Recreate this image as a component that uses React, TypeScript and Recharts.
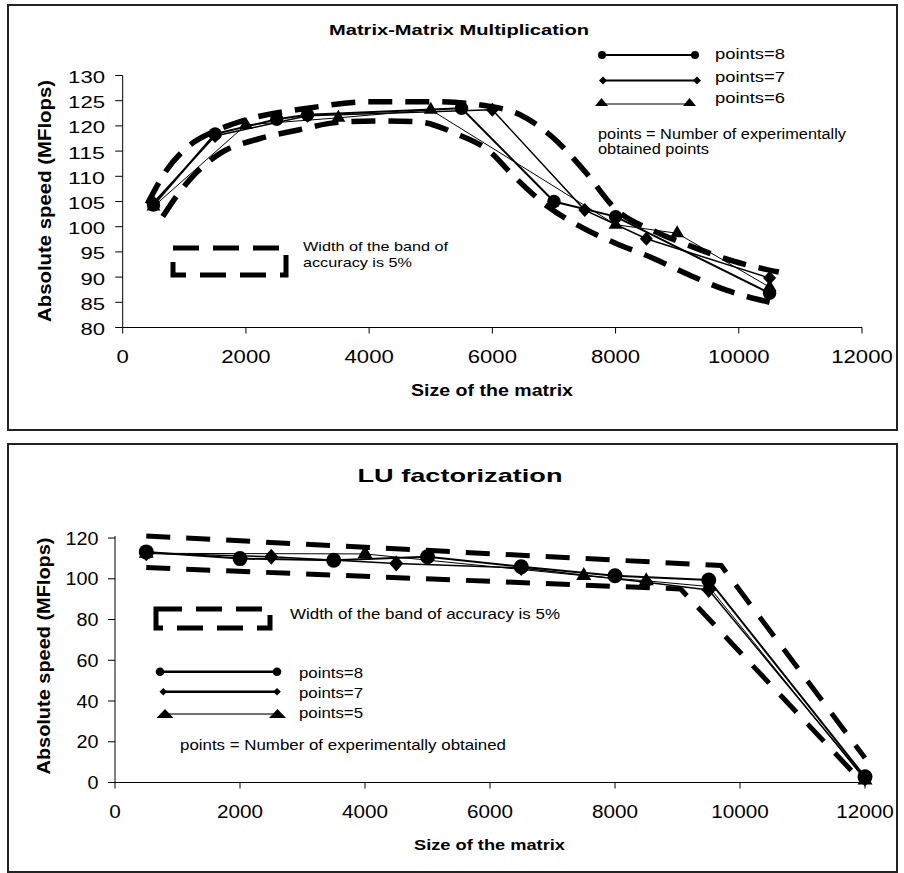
import React from 'react';
import { Line, LineChart, XAxis, YAxis } from 'recharts';

// Matrix-Matrix Multiplication: size of the matrix -> absolute speed (MFlops)
const sizeTicks = [0, 2000, 4000, 6000, 8000, 10000, 12000];
const mmSpeedTicks = [80, 85, 90, 95, 100, 105, 110, 115, 120, 125, 130];
const luSpeedTicks = [0, 20, 40, 60, 80, 100, 120];

const mmSizes8 = [500, 1500, 2500, 3000, 5500, 7000, 8000, 10500];
const mmSpeeds8 = [104.3, 118.4, 121.3, 122.2, 123.5, 105, 102, 86.8];
const mmSizes7 = [500, 1500, 3000, 6000, 7500, 8500, 10500];
const mmSpeeds7 = [104.8, 118, 122, 123.2, 103.3, 97.6, 89.8];
const mmSizes6 = [500, 2000, 3500, 5000, 8000, 9000, 10500];
const mmSpeeds6 = [104, 120.2, 121.6, 123.2, 100.4, 98.7, 88];

const mmUpperSizes = [400, 700, 1100, 1500, 2000, 3000, 4000, 5100, 5900, 6450, 7000, 7500, 8000, 8650, 9250, 9900, 10650];
const mmUpperSpeeds = [104.5, 111, 116.3, 119, 121.2, 123.5, 124.8, 124.8, 124, 122.2, 117.5, 111, 103.5, 99, 96, 93.2, 91];
const mmLowerSizes = [650, 900, 1100, 1600, 2200, 2850, 3500, 4200, 4800, 5400, 5950, 6350, 6900, 7400, 8000, 8600, 9200, 9800, 10500];
const mmLowerSpeeds = [102, 106.5, 109.5, 114.7, 117.4, 119.2, 120.7, 121, 120.8, 118.5, 115, 110, 104, 100.2, 96.7, 93.8, 90.4, 87.4, 85];

// LU factorization
const luSizes8 = [500, 2000, 3500, 5000, 6500, 8000, 9500, 12000];
const luSpeeds8 = [113.2, 109.9, 109.1, 110.8, 105.9, 101.5, 99.4, 2.8];
const luSizes7 = [500, 2500, 4500, 6500, 8500, 9500, 12000];
const luSpeeds7 = [112.5, 110.8, 107.5, 105.3, 98.3, 94.5, 2];
const luSizes5 = [500, 4000, 7500, 8500, 9500, 12000];
const luSpeeds5 = [112.5, 112.2, 101.5, 99, 96.2, 1.2];

const luUpperSizes = [500, 9700, 12000];
const luUpperSpeeds = [121, 106.5, 12];
const luLowerSizes = [500, 9050, 11900];
const luLowerSpeeds = [105.5, 95, 2];

const FONT = "'Liberation Sans', Arial, Helvetica, sans-serif";

const toRows = (sizes: number[], speeds: number[]) => sizes.map((size, i) => ({ size, speed: speeds[i] }));

const circleDot = (r: number) => (p: any) => (
  <circle key={`c-${p.index}`} cx={p.cx} cy={p.cy} r={r} fill='#000' />
);

const diamondDot = (w: number, h: number) => (p: any) => (
  <path
    key={`d-${p.index}`}
    d={`M${p.cx},${p.cy - h}L${p.cx + w},${p.cy}L${p.cx},${p.cy + h}L${p.cx - w},${p.cy}Z`}
    fill='#000'
  />
);

const triangleDot = (w: number, h: number) => (p: any) => (
  <path
    key={`t-${p.index}`}
    d={`M${p.cx},${p.cy - (h * 2) / 3}L${p.cx + w / 2},${p.cy + h / 3}L${p.cx - w / 2},${p.cy + h / 3}Z`}
    fill='#000'
  />
);

interface TxtProps {
  x: number;
  y: number;
  w: number;
  size: number;
  bold?: boolean;
  anchor?: 'start' | 'middle' | 'end';
  rotate?: boolean;
  children: string;
}

function Txt({ x, y, w, size, bold, anchor = 'start', rotate, children }: TxtProps) {
  return (
    <text
      x={rotate ? 0 : x}
      y={rotate ? 0 : y}
      transform={rotate ? `translate(${x},${y}) rotate(-90)` : undefined}
      fontFamily={FONT}
      fontSize={size}
      fontWeight={bold ? 'bold' : 'normal'}
      textAnchor={anchor}
      textLength={w}
      lengthAdjust='spacingAndGlyphs'
      fill='#000'
    >
      {children}
    </text>
  );
}

function yTick(axisX: number, gap: number, digitW: number, base: number, size: number) {
  return (p: any) => {
    const label = String(p.payload.value);
    return (
      <Txt x={axisX - gap} y={p.y + base} w={label.length * digitW} size={size} anchor='end'>
        {label}
      </Txt>
    );
  };
}

function xTick(baseY: number, digitW: number, size: number) {
  return (p: any) => {
    const label = String(p.payload.value);
    return (
      <Txt x={p.x} y={baseY} w={label.length * digitW} size={size} anchor='middle'>
        {label}
      </Txt>
    );
  };
}

const diamond = (cx: number, cy: number, w: number, h: number) =>
  `M${cx},${cy - h}L${cx + w},${cy}L${cx},${cy + h}L${cx - w},${cy}Z`;
const triangle = (cx: number, baseY: number, w: number, h: number) =>
  `M${cx},${baseY - h}L${cx + w / 2},${baseY}L${cx - w / 2},${baseY}Z`;

function Decorations() {
  return (
    <svg
      width={904}
      height={873}
      style={{ position: 'absolute', left: 0, top: 0, pointerEvents: 'none' }}
    >
      {/* frames */}
      <rect x={8} y={5} width={889} height={425} fill='none' stroke='#222' strokeWidth={2} />
      <rect x={8} y={444} width={889} height={428} fill='none' stroke='#222' strokeWidth={2} />

      {/* Matrix-Matrix Multiplication */}
      <Txt x={459} y={35} w={260} size={15} bold anchor='middle'>Matrix-Matrix Multiplication</Txt>
      <Txt x={51} y={201} w={242} size={18} bold anchor='middle' rotate>Absolute speed (MFlops)</Txt>
      <Txt x={492} y={396} w={162} size={16} bold anchor='middle'>Size of the matrix</Txt>

      <line x1={602} y1={55} x2={695} y2={55} stroke='#000' strokeWidth={2} />
      <circle cx={602} cy={55} r={4} fill='#000' />
      <circle cx={695} cy={55} r={4} fill='#000' />
      <Txt x={715} y={59} w={70} size={14}>points=8</Txt>

      <line x1={603} y1={80.5} x2={697} y2={80.5} stroke='#000' strokeWidth={2} />
      <path d={diamond(603, 80.5, 4, 4)} fill='#000' />
      <path d={diamond(697, 80.5, 4, 4)} fill='#000' />
      <Txt x={715} y={81.5} w={70} size={14}>points=7</Txt>

      <line x1={601} y1={104} x2={690} y2={104} stroke='#000' strokeWidth={1} />
      <path d={triangle(601.5, 106, 13, 8)} fill='#000' />
      <path d={triangle(689.5, 106, 13, 8)} fill='#000' />
      <Txt x={715} y={102.5} w={70} size={14}>points=6</Txt>

      <Txt x={598} y={138.5} w={248} size={14}>points = Number of experimentally</Txt>
      <Txt x={598} y={154} w={111} size={14}>obtained points</Txt>

      <rect x={173} y={248} width={113} height={27} fill='none' stroke='#000' strokeWidth={5} strokeDasharray='26 14' />
      <Txt x={303} y={251} w={145} size={13}>Width of the band of</Txt>
      <Txt x={303} y={267} w={109} size={13}>accuracy is 5%</Txt>

      {/* LU factorization */}
      <Txt x={460} y={482} w={205} size={19} bold anchor='middle'>LU factorization</Txt>
      <Txt x={50} y={656} w={237} size={18} bold anchor='middle' rotate>Absolute speed (MFlops)</Txt>
      <Txt x={489.5} y={850} w={151} size={15} bold anchor='middle'>Size of the matrix</Txt>

      <rect x={156} y={609} width={114} height={19} fill='none' stroke='#000' strokeWidth={5} strokeDasharray='26 14' />
      <Txt x={290} y={619} w={270} size={15}>Width of the band of accuracy is 5%</Txt>

      <line x1={160} y1={671.7} x2={277} y2={671.7} stroke='#000' strokeWidth={2.5} />
      <circle cx={160} cy={671.7} r={4.3} fill='#000' />
      <circle cx={277} cy={671.7} r={4.3} fill='#000' />
      <Txt x={299} y={678} w={64} size={15}>points=8</Txt>

      <line x1={163} y1={691.7} x2={277} y2={691.7} stroke='#000' strokeWidth={2.5} />
      <path d={diamond(163.3, 691.7, 3.8, 3.8)} fill='#000' />
      <path d={diamond(277, 691.7, 3.8, 3.8)} fill='#000' />
      <Txt x={299} y={697.5} w={64} size={15}>points=7</Txt>

      <line x1={165} y1={714} x2={277} y2={714} stroke='#444' strokeWidth={1.5} />
      <path d={triangle(165, 718, 17, 9)} fill='#000' />
      <path d={triangle(277.5, 718, 17, 9)} fill='#000' />
      <Txt x={299} y={717.5} w={64} size={15}>points=5</Txt>

      <Txt x={180} y={750} w={326} size={15}>points = Number of experimentally obtained</Txt>
    </svg>
  );
}

function MatrixChart() {
  return (
    <div style={{ position: 'absolute', left: 0, top: 0 }}>
      <LineChart width={904} height={437} margin={{ top: 75.5, right: 42, bottom: 69.5, left: 62.7 }}>
        <XAxis
          dataKey='size'
          type='number'
          domain={[0, 12000]}
          ticks={sizeTicks}
          interval={0}
          height={40}
          tickSize={6}
          axisLine={{ stroke: '#000' }}
          tickLine={{ stroke: '#000' }}
          tick={xTick(363, 12.3, 18)}
        />
        <YAxis
          type='number'
          domain={[80, 130]}
          ticks={mmSpeedTicks}
          interval={0}
          width={60}
          tickSize={7.5}
          axisLine={{ stroke: '#000' }}
          tickLine={{ stroke: '#000' }}
          tick={yTick(122.7, 17.7, 12.3, 7.5, 17)}
        />
        <Line data={toRows(mmUpperSizes, mmUpperSpeeds)} dataKey='speed' type='monotone' stroke='#000' strokeWidth={5.5} strokeDasharray='24 13' dot={false} isAnimationActive={false} />
        <Line data={toRows(mmLowerSizes, mmLowerSpeeds)} dataKey='speed' type='monotone' stroke='#000' strokeWidth={5.5} strokeDasharray='24 13' dot={false} isAnimationActive={false} />
        <Line data={toRows(mmSizes6, mmSpeeds6)} dataKey='speed' type='linear' stroke='#000' strokeWidth={1} dot={triangleDot(14, 12)} isAnimationActive={false} />
        <Line data={toRows(mmSizes7, mmSpeeds7)} dataKey='speed' type='linear' stroke='#000' strokeWidth={1.5} dot={diamondDot(6.5, 7)} isAnimationActive={false} />
        <Line data={toRows(mmSizes8, mmSpeeds8)} dataKey='speed' type='linear' stroke='#000' strokeWidth={2} dot={circleDot(6.7)} isAnimationActive={false} />
      </LineChart>
    </div>
  );
}

function LuChart() {
  return (
    <div style={{ position: 'absolute', left: 0, top: 437 }}>
      <LineChart width={904} height={436} margin={{ top: 99, right: 39, bottom: 50.5, left: 55 }}>
        <XAxis
          dataKey='size'
          type='number'
          domain={[0, 12000]}
          ticks={sizeTicks}
          interval={0}
          height={40}
          tickSize={6}
          axisLine={{ stroke: '#000' }}
          tickLine={{ stroke: '#000' }}
          tick={xTick(381, 11.5, 18)}
        />
        <YAxis
          type='number'
          domain={[0, 120]}
          ticks={luSpeedTicks}
          interval={0}
          width={60}
          tickSize={7}
          axisLine={{ stroke: '#000' }}
          tickLine={{ stroke: '#000' }}
          tick={yTick(115, 16.5, 11, 6.5, 18)}
        />
        <Line data={toRows(luUpperSizes, luUpperSpeeds)} dataKey='speed' type='linear' stroke='#000' strokeWidth={5} strokeDasharray='24 16' dot={false} isAnimationActive={false} />
        <Line data={toRows(luLowerSizes, luLowerSpeeds)} dataKey='speed' type='linear' stroke='#000' strokeWidth={5} strokeDasharray='24 16' dot={false} isAnimationActive={false} />
        <Line data={toRows(luSizes5, luSpeeds5)} dataKey='speed' type='linear' stroke='#000' strokeWidth={1} dot={triangleDot(15, 13)} isAnimationActive={false} />
        <Line data={toRows(luSizes7, luSpeeds7)} dataKey='speed' type='linear' stroke='#000' strokeWidth={1.5} dot={diamondDot(7, 8)} isAnimationActive={false} />
        <Line data={toRows(luSizes8, luSpeeds8)} dataKey='speed' type='linear' stroke='#000' strokeWidth={2} dot={circleDot(7.5)} isAnimationActive={false} />
      </LineChart>
    </div>
  );
}

export default function App() {
  return (
    <div style={{ position: 'absolute', left: 0, top: 0, width: 904, height: 873, background: '#fff' }}>
      <MatrixChart />
      <LuChart />
      <Decorations />
    </div>
  );
}
